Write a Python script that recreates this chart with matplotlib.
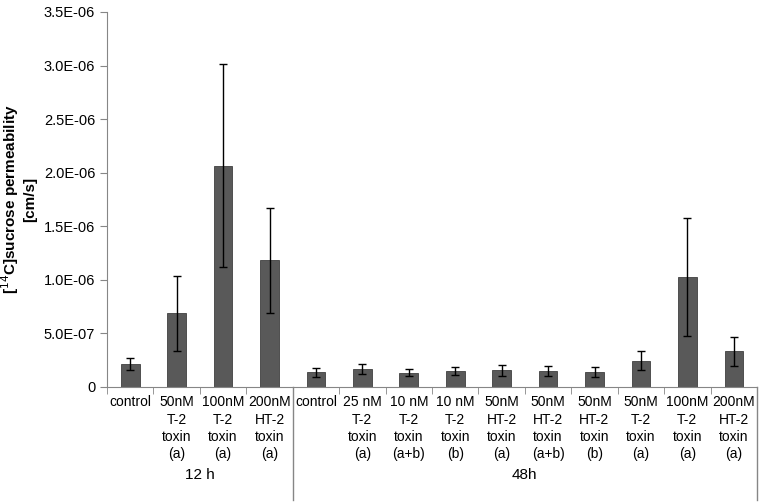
import numpy as np
import matplotlib
matplotlib.use("Agg")
import matplotlib.pyplot as plt
from matplotlib.ticker import FixedLocator

plt.rcParams['font.family'] = ['Liberation Sans', 'DejaVu Sans']

# Data
labels = ["control", "50nM\nT-2\ntoxin\n(a)", "100nM\nT-2\ntoxin\n(a)", "200nM\nHT-2\ntoxin\n(a)",
          "control", "25 nM\nT-2\ntoxin\n(a)", "10 nM\nT-2\ntoxin\n(a+b)", "10 nM\nT-2\ntoxin\n(b)",
          "50nM\nHT-2\ntoxin\n(a)", "50nM\nHT-2\ntoxin\n(a+b)", "50nM\nHT-2\ntoxin\n(b)",
          "50nM\nT-2\ntoxin\n(a)", "100nM\nT-2\ntoxin\n(a)", "200nM\nHT-2\ntoxin\n(a)"]
values = [0.215e-6, 0.69e-6, 2.065e-6, 1.185e-6,
          0.14e-6, 0.17e-6, 0.134e-6, 0.149e-6, 0.156e-6, 0.149e-6, 0.138e-6,
          0.246e-6, 1.03e-6, 0.335e-6]
errors = [0.052e-6, 0.35e-6, 0.945e-6, 0.49e-6,
          0.042e-6, 0.045e-6, 0.035e-6, 0.036e-6, 0.05e-6, 0.05e-6, 0.045e-6,
          0.09e-6, 0.55e-6, 0.135e-6]
groups = ["12 h", "48h"]
group_sizes = [4, 10]

fig = plt.figure(figsize=(7.63, 5.04), dpi=100)
ax = fig.add_axes([107 / 763, 117 / 504, 650 / 763, 375 / 504])

x = np.arange(len(values))
ax.bar(x, values, width=0.4, color="#595959", edgecolor="#404040", linewidth=0.6,
       yerr=errors, capsize=3, error_kw=dict(ecolor="black", elinewidth=1, capthick=1))

ax.set_xlim(-0.5, len(values) - 0.5)
ax.set_ylim(0, 3.5e-6)
yt = np.arange(0, 3.51e-6, 0.5e-6)
ax.set_yticks(yt)
ax.set_yticklabels(["0"] + [f"{v:.1E}" for v in yt[1:]])

ax.set_xticks(x)
ax.set_xticklabels(labels, fontsize=10, linespacing=1.3, va="top")
ax.tick_params(axis="x", which="major", length=0, pad=6)
ax.xaxis.set_minor_locator(FixedLocator(np.arange(-0.5, len(values), 1.0)))
ax.tick_params(axis="x", which="minor", length=5, color="#868686", direction="out")
ax.tick_params(axis="y", length=5, color="#868686", labelsize=10.5, direction="out")

for s in ["top", "right"]:
    ax.spines[s].set_visible(False)
for s in ["left", "bottom"]:
    ax.spines[s].set_color("#868686")

ax.set_ylabel("[$^{14}$C]sucrose permeability\n[cm/s]", fontsize=11, fontweight="bold",
              linespacing=1.2)
ax.yaxis.set_label_coords(-0.108, 0.5)

# group labels and separators
trans = ax.get_xaxis_transform()
start = 0
for g, n in zip(groups, group_sizes):
    center = start + (n - 1) / 2
    ax.text(center, -0.235, g, transform=trans, ha="center", va="center", fontsize=11)
    end = start + n - 0.5
    ax.plot([end, end], [0, -0.30], transform=trans, color="#868686", lw=1, clip_on=False)
    start += n

fig.savefig("out.png", dpi=100)
